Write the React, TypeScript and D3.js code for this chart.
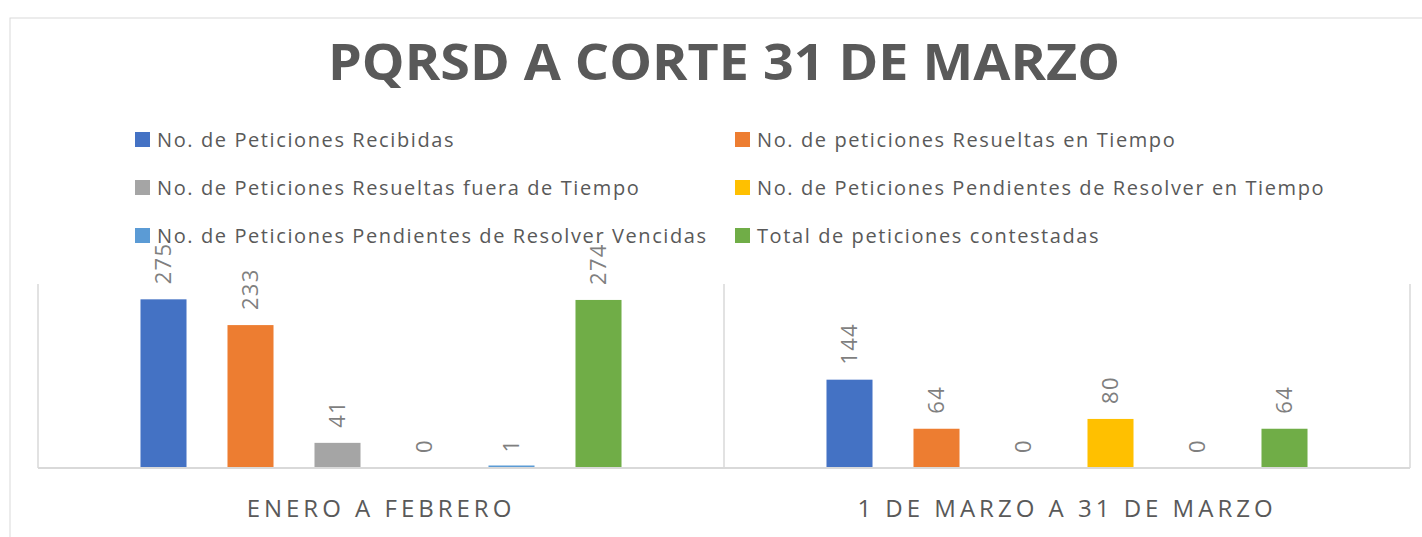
import React from "react";
import * as d3 from "d3";

const categories = ["ENERO A FEBRERO", "1 DE MARZO A 31 DE MARZO"];
const seriesNames = [
  "No. de Peticiones Recibidas",
  "No. de peticiones Resueltas en Tiempo",
  "No. de Peticiones Resueltas fuera de Tiempo",
  "No. de Peticiones Pendientes de Resolver en Tiempo",
  "No. de Peticiones Pendientes de Resolver Vencidas",
  "Total de peticiones contestadas",
];
const seriesColors = ["#4472c4", "#ed7d31", "#a5a5a5", "#ffc000", "#5b9bd5", "#70ad47"];
const eneroFebrero = [275, 233, 41, 0, 1, 274];
const marzo = [144, 64, 0, 80, 0, 64];
const values = [eneroFebrero, marzo];
const title = "PQRSD A CORTE 31 DE MARZO";

const W = 1422;
const H = 537;
const FONT = "'Open Sans', 'DejaVu Sans', sans-serif";

export default function App() {
  const plotLeft = 38;
  const plotRight = 1410;
  const plotTop = 284;
  const plotBottom = 468;

  const x0 = d3.scaleBand<string>().domain(categories).range([plotLeft, plotRight]).paddingInner(0).paddingOuter(0);
  const x1 = d3
    .scaleBand<number>()
    .domain(d3.range(seriesNames.length))
    .range([0, x0.bandwidth()])
    .paddingInner(0.471)
    .paddingOuter(1.178);
  const y = d3.scaleLinear().domain([0, 300]).range([plotBottom, plotTop]);

  const boundaries = [plotLeft, ...categories.map((c) => (x0(c) as number) + x0.bandwidth())];

  const legendCols = [135, 735];
  const legendRow0 = 132;
  const legendRowStep = 48;

  return (
    <svg
      width={W}
      height={H}
      style={{ position: "absolute", left: 0, top: 0, background: "#fff" }}
      fontFamily={FONT}
    >
      <rect x={10} y={18} width={W + 20} height={H + 20} fill="#fff" stroke="#d9d9d9" strokeWidth={1} />
      <text
        x={724}
        y={80}
        textAnchor="middle"
        fontSize={50}
        fontWeight={700}
        fill="#595959"
        textLength={792}
        lengthAdjust="spacingAndGlyphs"
      >
        {title}
      </text>

      {seriesNames.map((name, i) => {
        const col = i % 2;
        const row = Math.floor(i / 2);
        const lx = legendCols[col];
        const ly = legendRow0 + row * legendRowStep;
        return (
          <g key={name}>
            <rect x={lx} y={ly} width={15} height={15} fill={seriesColors[i]} />
            <text x={lx + 22} y={ly + 15} fontSize={20} fill="#595959" letterSpacing={1.6}>
              {name}
            </text>
          </g>
        );
      })}

      {boundaries.map((bx, i) => (
        <line key={i} x1={bx} x2={bx} y1={plotTop} y2={plotBottom} stroke="#d9d9d9" strokeWidth={1.5} />
      ))}
      <line x1={plotLeft} x2={plotRight} y1={plotBottom} y2={plotBottom} stroke="#d9d9d9" strokeWidth={2} />

      {categories.map((cat, ci) => {
        const gx = x0(cat) as number;
        return (
          <g key={cat} transform={`translate(${gx},0)`}>
            {values[ci].map((v, si) => {
              const bx = x1(si) as number;
              const bw = x1.bandwidth();
              const top = y(v);
              const cx = bx + bw / 2;
              const h = v > 0 ? Math.max(1.5, plotBottom - 1 - top) : 0;
              return (
                <g key={si}>
                  {v > 0 && <rect x={bx} y={plotBottom - 1 - h} width={bw} height={h} fill={seriesColors[si]} />}
                  <text
                    transform={`translate(${cx},${top - 15}) rotate(-90)`}
                    textAnchor="start"
                    dy="0.36em"
                    fontSize={22}
                    fill="#7f7f7f"
                    letterSpacing={1.3}
                  >
                    {v}
                  </text>
                </g>
              );
            })}
            <text
              x={x0.bandwidth() / 2}
              y={517}
              textAnchor="middle"
              fontSize={24}
              fill="#595959"
              letterSpacing={4}
            >
              {cat}
            </text>
          </g>
        );
      })}
    </svg>
  );
}
